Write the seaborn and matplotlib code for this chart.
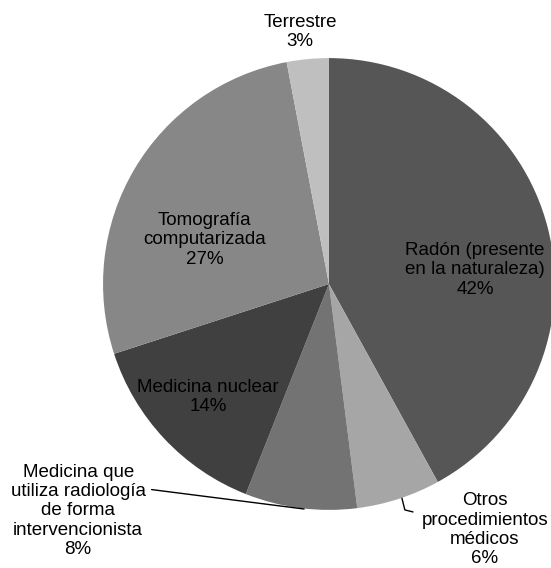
import matplotlib
matplotlib.use('Agg')
import matplotlib.pyplot as plt
import seaborn as sns

labels = ['Radón (presente\nen la naturaleza)', 'Otros\nprocedimientos\nmédicos',
          'Medicina que\nutiliza radiología\nde forma\nintervencionista',
          'Medicina nuclear', 'Tomografía\ncomputarizada', 'Terrestre']
values = [42, 6, 8, 14, 27, 3]
colors = ['#565656', '#a6a6a6', '#737373', '#404040', '#878787', '#bfbfbf']

sns.set_theme(style='white')
plt.rcParams['font.family'] = ['Liberation Sans', 'DejaVu Sans']

fig = plt.figure(figsize=(5.51, 5.68), dpi=100)
ax = fig.add_axes([0.187, 0.102, 0.820, 0.796])
wedges, _ = ax.pie(values, colors=colors, startangle=90, counterclock=False,
                   radius=1, wedgeprops=dict(linewidth=0))
ax.set_xlim(-1, 1)
ax.set_ylim(-1, 1)
ax.set_aspect('equal')
ax.axis('off')

# label positions in data coords
pos = [(0.646, 0.062), (0.69, -1.088), (-1.11, -1.004), (-0.535, -0.50),
       (-0.549, 0.195), (-0.128, 1.115)]
for lab, v, (x, y) in zip(labels, values, pos):
    ax.text(x, y, f'{lab}\n{v}%', ha='center', va='center', fontsize=13.5,
            linespacing=1.18, clip_on=False, color='black')

# leader lines
ax.plot([-0.785, -0.11], [-0.91, -0.996], color='black', lw=1, clip_on=False)
ax.plot([0.323, 0.336, 0.372], [-0.948, -1.0, -1.009], color='black', lw=1, clip_on=False)

fig.savefig('out.png', dpi=100)
